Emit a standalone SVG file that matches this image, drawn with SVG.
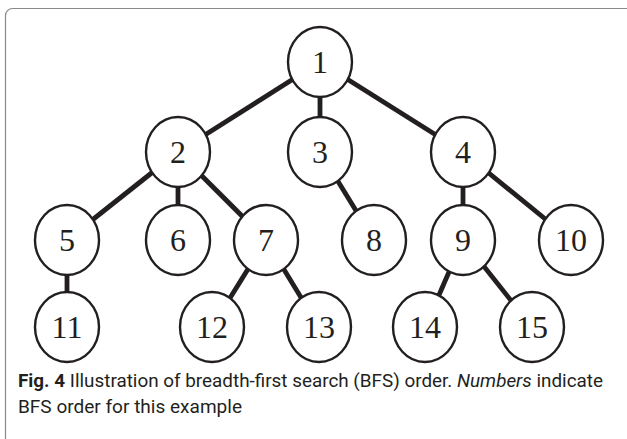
<svg xmlns="http://www.w3.org/2000/svg" width="627" height="439" viewBox="0 0 627 439">
  <style>
    .frame { fill: #ffffff; stroke: #8a8a8a; stroke-width: 1.2; }
    .edge { stroke: #231f20; stroke-width: 4.8; stroke-linecap: butt; fill: none; }
    .node ellipse { fill: #ffffff; stroke: #231f20; stroke-width: 2.4; }
    .node text { font-family: "Liberation Serif", "DejaVu Serif", serif; font-size: 32px; fill: #231f20; text-anchor: middle; }
    .cap { font-family: Roboto, "Noto Sans", sans-serif; font-size: 18px; fill: #231f20; }
  </style>
  <rect class="frame" x="5.5" y="8.5" width="660" height="470" rx="7"/>

  <g id="edges">
    <line class="edge" x1="320" y1="62" x2="178" y2="152"/>
    <line class="edge" x1="320" y1="62" x2="320" y2="152"/>
    <line class="edge" x1="320" y1="62" x2="463" y2="152"/>
    <line class="edge" x1="178" y1="152" x2="67" y2="240"/>
    <line class="edge" x1="178" y1="152" x2="178" y2="240"/>
    <line class="edge" x1="178" y1="152" x2="266" y2="240"/>
    <line class="edge" x1="320" y1="152" x2="374" y2="240"/>
    <line class="edge" x1="463" y1="152" x2="463" y2="240"/>
    <line class="edge" x1="463" y1="152" x2="571" y2="240"/>
    <line class="edge" x1="67" y1="240" x2="67" y2="327"/>
    <line class="edge" x1="266" y1="240" x2="212" y2="327"/>
    <line class="edge" x1="266" y1="240" x2="319" y2="327"/>
    <line class="edge" x1="463" y1="240" x2="425" y2="327"/>
    <line class="edge" x1="463" y1="240" x2="532" y2="327"/>
  </g>

  <g id="n1" class="node"><ellipse cx="320" cy="62" rx="32" ry="35"/><text x="320" y="73">1</text></g>
  <g id="n2" class="node"><ellipse cx="178" cy="152" rx="32" ry="35"/><text x="178" y="163">2</text></g>
  <g id="n3" class="node"><ellipse cx="320" cy="152" rx="32" ry="35"/><text x="320" y="163">3</text></g>
  <g id="n4" class="node"><ellipse cx="463" cy="152" rx="32" ry="35"/><text x="463" y="163">4</text></g>
  <g id="n5" class="node"><ellipse cx="67" cy="240" rx="32" ry="35"/><text x="67" y="251">5</text></g>
  <g id="n6" class="node"><ellipse cx="178" cy="240" rx="32" ry="35"/><text x="178" y="251">6</text></g>
  <g id="n7" class="node"><ellipse cx="266" cy="240" rx="32" ry="35"/><text x="266" y="251">7</text></g>
  <g id="n8" class="node"><ellipse cx="374" cy="240" rx="32" ry="35"/><text x="374" y="251">8</text></g>
  <g id="n9" class="node"><ellipse cx="463" cy="240" rx="32" ry="35"/><text x="463" y="251">9</text></g>
  <g id="n10" class="node"><ellipse cx="571" cy="240" rx="32" ry="35"/><text x="571" y="251">10</text></g>
  <g id="n11" class="node"><ellipse cx="67" cy="327" rx="32" ry="35"/><text x="67" y="338">11</text></g>
  <g id="n12" class="node"><ellipse cx="212" cy="327" rx="32" ry="35"/><text x="212" y="338">12</text></g>
  <g id="n13" class="node"><ellipse cx="319" cy="327" rx="32" ry="35"/><text x="319" y="338">13</text></g>
  <g id="n14" class="node"><ellipse cx="425" cy="327" rx="32" ry="35"/><text x="425" y="338">14</text></g>
  <g id="n15" class="node"><ellipse cx="532" cy="327" rx="32" ry="35"/><text x="532" y="338">15</text></g>

  <g id="caption" class="cap">
    <text x="18" y="387" textLength="585" lengthAdjust="spacingAndGlyphs"><tspan font-weight="bold">Fig. 4</tspan> Illustration of breadth-first search (BFS) order. <tspan font-style="italic">Numbers</tspan> indicate</text>
    <text x="18" y="413" textLength="224" lengthAdjust="spacingAndGlyphs">BFS order for this example</text>
  </g>
</svg>
